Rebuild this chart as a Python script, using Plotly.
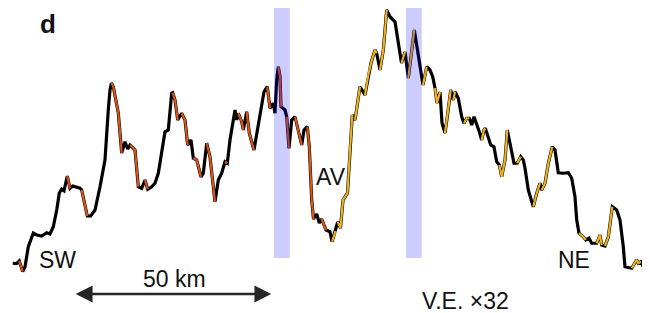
import plotly.graph_objects as go

# Topographic profile SW -> NE (distance in km, elevation in m)
dist_km = [0.18, 1.19, 1.85, 2.72, 3.30, 4.14, 5.41, 6.27, 7.54, 8.81,
           9.64, 10.48, 11.35, 12.01, 12.61, 13.20, 14.04, 14.72, 15.41, 16.42,
           17.26, 17.69, 19.11, 19.97, 21.07, 22.34, 23.60, 24.44, 24.87, 25.25,
           25.71, 26.98, 27.84, 28.68, 29.37, 29.95, 31.22, 32.06, 32.92, 33.76,
           34.44, 35.46, 36.29, 37.13, 37.99, 38.83, 39.67, 40.53, 40.79, 41.37,
           42.06, 43.07, 43.91, 44.59, 45.43, 46.02, 46.88, 47.97, 48.55, 49.42,
           50.25, 51.52, 52.36, 53.22, 54.06, 54.64, 55.33, 56.60, 57.03, 57.44,
           58.30, 58.71, 59.57, 60.23, 61.42, 62.11, 62.94, 63.96, 64.80, 65.48,
           66.32, 66.75, 67.18, 67.59, 68.02, 68.27, 69.29, 69.72, 70.30, 70.99,
           71.83, 72.41, 73.53, 74.11, 74.95, 75.46, 76.07, 76.52, 77.33, 78.00,
           78.60, 79.70, 80.71, 81.22, 82.11, 82.67, 83.38, 84.01, 85.15, 85.79,
           86.37, 87.06, 87.74, 88.32, 89.59, 90.43, 91.12, 92.13, 92.56, 93.40,
           94.24, 95.10, 95.94, 97.21, 98.05, 98.86, 99.75, 100.59, 102.11, 103.12,
           104.32, 105.25, 106.09, 106.77, 107.36, 107.87, 108.63, 109.14, 109.90, 110.48,
           111.35, 112.01, 112.44, 113.27, 114.14, 114.72, 115.41, 116.07, 116.68, 117.26,
           117.94, 118.61, 119.21, 119.80, 120.13, 120.89, 121.50, 122.33, 123.02, 123.68,
           124.29, 125.13, 125.71, 126.57, 127.41, 128.25, 129.11, 129.77, 130.20, 131.04,
           132.31, 133.17, 134.01, 134.44, 135.28, 136.12, 137.13, 137.82, 138.65, 139.92,
           141.19, 142.06, 142.89, 143.33, 143.91, 145.00, 145.61, 146.45, 147.13, 148.40,
           149.24, 149.67, 150.51, 151.35, 152.36, 153.48, 154.32, 155.15, 155.58, 157.29,
           158.55, 158.96, 159.64, 160.23, 161.09]

elev_m = [134, 132, 152, 68, 106, 266, 376, 360, 352, 378,
          368, 426, 560, 696, 728, 714, 832, 734, 752, 742,
          734, 720, 512, 512, 560, 746, 960, 1360, 1520, 1576,
          1546, 1336, 1016, 1106, 1048, 1080, 1040, 746, 734, 800,
          726, 746, 774, 854, 1026, 1186, 1200, 1494, 1498, 1440,
          1280, 1334, 1280, 1080, 1120, 974, 960, 826, 854, 1094,
          986, 626, 800, 854, 946, 934, 1120, 1360, 1280, 1334,
          1266, 1200, 1346, 1174, 1040, 1174, 1334, 1506, 1546, 1374,
          1414, 1334, 1600, 1706, 1626, 1386, 1360, 1306, 1054, 1280,
          1306, 1226, 1080, 1200, 1226, 1066, 640, 488, 528, 456,
          488, 400, 386, 306, 392, 464, 416, 640, 694, 1040,
          1320, 1280, 1440, 1546, 1480, 1640, 1734, 1840, 1814, 1680,
          1840, 2160, 2106, 2066, 1894, 1736, 1824, 1616, 2000, 1786,
          1560, 1706, 1680, 1626, 1536, 1416, 1504, 1256, 1176, 1306,
          1520, 1440, 1506, 1454, 1306, 1254, 1294, 1294, 1240, 1306,
          1254, 1186, 1120, 1200, 1214, 1146, 1080, 1066, 946, 920,
          826, 960, 1200, 1066, 934, 934, 986, 960, 896, 720,
          586, 694, 774, 720, 774, 934, 1066, 1040, 858, 854,
          858, 814, 666, 480, 374, 346, 320, 334, 294, 294,
          360, 280, 272, 346, 586, 560, 480, 266, 106, 94,
          160, 134, 146, 106, 112]

# segment class for each interval (k = none, o = orange unit, y = yellow unit)
seg_class = ("kkokkkkkkk" "kkkkkkokkk" "kokkkkkkko" "ookkkookko" "kkkkkkkkoo"
             "kookkookko" "okkkokkkko" "okookkkkok" "kkkookkokk" "ookkoookkk"
             "okkykyyyyy" "kyykyyyyky" "ykkkkykykk" "ykkkyykkyy" "kykkkyykkk"
             "kkyykkkkky" "yykkkykkkk" "yykyyykkkk" "kkkkyykkky" "ykyykkkkky"
             "yykkk")

# highlighted zones (km)
band_start_km = [66.5, 100.0]
band_end_km = [70.5, 104.0]
band_bottom_m = [176, 176]
band_top_m = [2192, 2192]

scale_start_km = 15.8
scale_len_km = 50.0
scale_elev_m = -112

ORANGE = "#D95319"
YELLOW = "#EDB120"
FONT = "Liberation Sans, Arial, Helvetica, sans-serif"

# page body has an 8px margin: figure fills the remaining 642x305 view
W, H, OFF = 642, 305, 8

fig = go.Figure()
fig.add_trace(go.Scatter(x=dist_km, y=elev_m, mode="lines",
                         line=dict(color="black", width=3.2), hoverinfo="skip"))

for code, col in (("o", ORANGE), ("y", YELLOW)):
    xs, ys = [], []
    i = 0
    n = len(dist_km)
    while i < n - 1:
        if seg_class[i] == code:
            j = i
            while j < n - 1 and seg_class[j] == code:
                j += 1
            xs += dist_km[i:j + 1] + [None]
            ys += elev_m[i:j + 1] + [None]
            i = j
        else:
            i += 1
    fig.add_trace(go.Scatter(x=xs, y=ys, mode="lines",
                             line=dict(color=col, width=2.2), hoverinfo="skip"))

for x0, x1, y0, y1 in zip(band_start_km, band_end_km, band_bottom_m, band_top_m):
    fig.add_shape(type="rect", x0=x0, x1=x1, y0=y0, y1=y1, xref="x", yref="y",
                  fillcolor="rgba(0,0,255,0.2)", line=dict(width=0), layer="above")

# scale bar with double arrow
fig.add_annotation(x=scale_start_km + scale_len_km, y=scale_elev_m,
                   ax=scale_start_km, ay=scale_elev_m, xref="x", yref="y",
                   axref="x", ayref="y", text="", showarrow=True,
                   arrowhead=2, startarrowhead=2, arrowside="end+start",
                   arrowsize=1.4, startarrowsize=1.4, arrowwidth=2.4,
                   arrowcolor="#262626")

def label(text, px, py, size=23, bold=False):
    fig.add_annotation(x=(px - OFF) / W, y=1 - (py - OFF) / H, xref="paper", yref="paper",
                       text=("<b>%s</b>" % text) if bold else text,
                       showarrow=False, xanchor="center", yanchor="middle",
                       font=dict(family=FONT, size=size, color="#111111"))

# panel letter anchored to the top edge so its box stays inside the figure
fig.add_annotation(x=(48.5 - OFF) / W, y=1, xref="paper", yref="paper",
                   text="<b>d</b>", showarrow=False, xanchor="center", yanchor="top",
                   borderpad=0, font=dict(family=FONT, size=26, color="#111111"))

label("SW", 57.5, 260)
label("50 km", 174.7, 279)
label("AV", 331, 176.5)
label("NE", 573.5, 260)
label("V.E. ×32", 465, 301)

fig.update_layout(width=W, height=H, margin=dict(l=0, r=0, t=0, b=0),
                  paper_bgcolor="white", plot_bgcolor="white", showlegend=False,
                  xaxis=dict(range=[-1.015, 161.93], visible=False, fixedrange=True),
                  yaxis=dict(range=[-264, 2176], visible=False, fixedrange=True))

fig.write_html("out.html")
